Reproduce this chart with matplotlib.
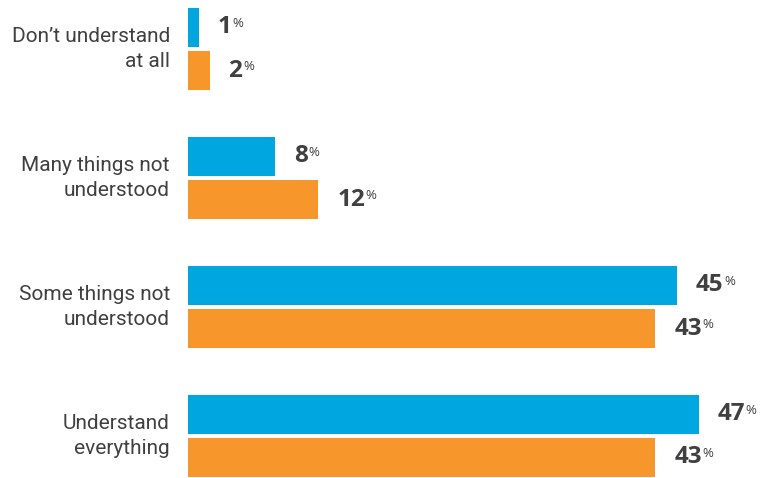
import matplotlib as mpl
import matplotlib.pyplot as plt

mpl.use("Agg")

categories = [
    "Don’t understand\nat all",
    "Many things not\nunderstood",
    "Some things not\nunderstood",
    "Understand\neverything",
]
blue_values = [1, 8, 45, 47]
orange_values = [2, 12, 43, 43]

BLUE = "#00a6e0"
ORANGE = "#f7972b"
TEXT = "#404040"
LABEL_FONT = ["Roboto", "DejaVu Sans"]
VALUE_FONT = ["Open Sans", "DejaVu Sans"]

fig = plt.figure(figsize=(7.75, 4.78), dpi=100)
ax = fig.add_axes([0, 0, 1, 1])
ax.set_xlim(-17.3, 54.0)
ax.set_ylim(3.326, -0.38)
ax.axis("off")

bar_h = 0.302
offset = 0.167

for i, (label, b, o) in enumerate(zip(categories, blue_values, orange_values)):
    ax.barh(i - offset, b, height=bar_h, color=BLUE)
    ax.barh(i + offset, o, height=bar_h, color=ORANGE)

    ax.annotate(label, xy=(0, i), xytext=(-13, 0), textcoords="offset points",
                ha="right", va="center", fontsize=15, color=TEXT,
                family=LABEL_FONT, linespacing=1.45)

    for y, v in ((i - offset, b), (i + offset, o)):
        num = ax.annotate(f"{v}", xy=(v, y), xytext=(13.5, 0),
                          textcoords="offset points", ha="left",
                          va="center", fontsize=17.5, fontweight="bold",
                          color=TEXT, family=VALUE_FONT)
        ax.annotate("%", xy=(1, 1), xycoords=num, xytext=(0.5, -1),
                    textcoords="offset points", ha="left", va="top",
                    fontsize=9.5, color=TEXT, family=VALUE_FONT)

fig.savefig("out.png", dpi=100)
